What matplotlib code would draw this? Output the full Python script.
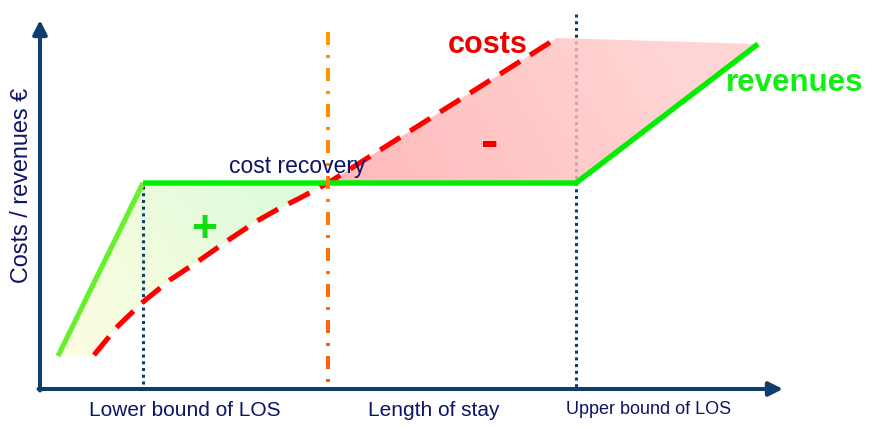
import numpy as np
import matplotlib
matplotlib.use("Agg")
import matplotlib.pyplot as plt
from matplotlib.patches import Polygon
from matplotlib.collections import LineCollection
from matplotlib.colors import LinearSegmentedColormap, to_rgb

plt.rcParams['font.family'] = ['Liberation Sans', 'DejaVu Sans']

# ---------------------------------------------------------------------------
# Diagram geometry (pixel space, y grows downwards)
# ---------------------------------------------------------------------------
origin = (40, 389)
x_end = 783
y_end = 20

rev_x = [58, 143, 576, 758]
rev_y = [356, 183, 183, 44]

cost_x = [94, 118, 143, 170, 200, 230, 257, 280, 300, 328, 557]
cost_y = [355, 326, 302, 280, 260, 239, 221, 208, 198, 183, 38]

lower_bound = 143
upper_bound = 576
break_even = 328
pink_top_right = (758, 44)

navy = '#0e3e6e'
text_navy = '#0b1466'

fig = plt.figure(figsize=(8.69, 4.28), dpi=100)
ax = fig.add_axes([0, 0, 1, 1])
ax.set_xlim(0, 869)
ax.set_ylim(428, 0)
ax.axis('off')


def gradient_fill(poly_pts, c0, c1, p0, p1, alpha=1.0, z=1):
    """Linear colour gradient from point p0 (c0) to p1 (c1), clipped to polygon."""
    cmap = LinearSegmentedColormap.from_list('g', [c0, c1])
    xs = np.linspace(0, 869, 435)
    ys = np.linspace(0, 428, 215)
    X, Y = np.meshgrid(xs, ys)
    d = np.array(p1, float) - np.array(p0, float)
    t = ((X - p0[0]) * d[0] + (Y - p0[1]) * d[1]) / (d @ d)
    im = ax.imshow(np.clip(t, 0, 1), cmap=cmap, extent=(0, 869, 428, 0),
                   origin='upper', vmin=0, vmax=1, alpha=alpha, zorder=z,
                   interpolation='bilinear', aspect='auto')
    patch = Polygon(poly_pts, closed=True, facecolor='none', edgecolor='none')
    ax.add_patch(patch)
    im.set_clip_path(patch)


# green "+" area between revenues and costs
green_poly = [(rev_x[0], rev_y[0]), (rev_x[1], rev_y[1]), (break_even, rev_y[1])]
green_poly += [(x, y) for x, y in zip(cost_x[::-1], cost_y[::-1]) if x <= break_even]
gradient_fill(green_poly, '#fdfde0', '#dcfbda', (70, 350), (300, 190), z=1)

# pink "-" area
pink_poly = [(x, y) for x, y in zip(cost_x, cost_y) if x >= break_even]
pink_poly += [pink_top_right, (upper_bound, rev_y[2]), (break_even, rev_y[2])]

# dotted bounds (upper one runs behind the pink area)
dots = (0, (1, 1.2))
ax.plot([lower_bound, lower_bound], [186, origin[1]], color=navy, lw=2.2,
        ls=dots, zorder=2)
ax.plot([upper_bound, upper_bound], [14, origin[1]], color=navy, lw=2.2,
        ls=dots, zorder=2)

gradient_fill(pink_poly, '#ffa8a8', '#ffcaca', (340, 185), (640, 20),
              alpha=0.8, z=3)

# costs
ax.plot(cost_x, cost_y, color='#ff0000', lw=3.7, ls=(0, (4.6, 2.3)),
        solid_capstyle='butt', dash_capstyle='butt', zorder=5)

# revenues
ax.plot(rev_x[:2], rev_y[:2], color='#66f030', lw=3.7, solid_capstyle='butt', zorder=6)
ax.plot(rev_x[1:], rev_y[1:], color='#00ee00', lw=3.9, solid_capstyle='butt',
        solid_joinstyle='miter', zorder=6)

# break-even dash-dot line with orange gradient
segs, cols = [], []
top, bottom = 32, origin[1] - 2
c_top, c_bot = np.array(to_rgb('#ff9a00')), np.array(to_rgb('#ff5a14'))
y0 = top
while y0 < bottom:
    for a, b in [(0, 13), (23, 26)]:
        s, e = y0 + a, min(y0 + b, bottom)
        if s < bottom:
            segs.append([(break_even, s), (break_even, e)])
            f = (s - top) / (bottom - top)
            cols.append(c_top * (1 - f) + c_bot * f)
    y0 += 36
ax.add_collection(LineCollection(segs, colors=cols, linewidths=2.9,
                                 capstyle='butt', zorder=7))

# axes with arrows
arrow = dict(arrowstyle='-|>,head_length=0.4,head_width=0.2', lw=2.9,
             color=navy, mutation_scale=21, shrinkA=0, shrinkB=0)
ax.annotate('', xy=(origin[0], y_end), xytext=(origin[0], origin[1] + 1.5),
            arrowprops=arrow, zorder=8)
ax.annotate('', xy=(x_end, origin[1]), xytext=(origin[0] - 1.5, origin[1]),
            arrowprops=arrow, zorder=8)

# labels
ax.text(22, 185, 'Costs / revenues \u20ac', rotation=90, ha='center', va='center',
        fontsize=16.8, color=text_navy)
ax.text(185, 411, 'Lower bound of LOS', ha='center', va='center',
        fontsize=15, color=text_navy)
ax.text(434, 411, 'Length of stay', ha='center', va='center',
        fontsize=15, color=text_navy)
ax.text(649, 409, 'Upper bound of LOS', ha='center', va='center',
        fontsize=13, color=text_navy)
ax.text(297, 166, 'cost recovery', ha='center', va='center',
        fontsize=16.5, color=text_navy, zorder=9)
ax.text(488, 45, 'costs', ha='center', va='center', fontsize=22,
        fontweight='bold', color='#ee0000', zorder=9)
ax.text(795, 83, 'revenues', ha='center', va='center', fontsize=22.5,
        fontweight='bold', color='#11ee11', zorder=9)
ax.text(204, 230, '+', ha='center', va='center', fontsize=32,
        fontweight='bold', color='#11dd11', zorder=9)
ax.text(490, 144, '-', ha='center', va='center', fontsize=38,
        fontweight='bold', color='#ee0000', zorder=9)

fig.savefig('out.png', dpi=100)
